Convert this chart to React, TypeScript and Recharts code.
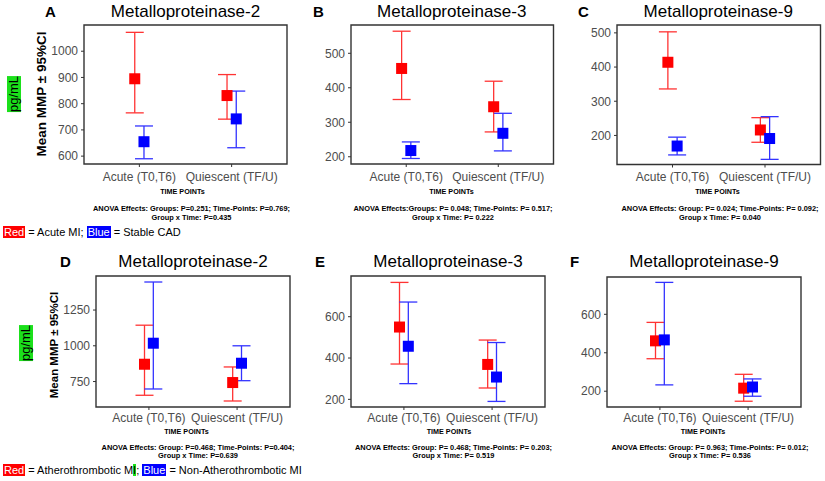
import React from 'react';
import { ComposedChart, Scatter, ErrorBar, XAxis, YAxis, ReferenceArea } from 'recharts';

const categories = ['Acute (T0,T6)', 'Quiescent (TF/U)'];

// each row: [mean, lower 95%CI, upper 95%CI] for Acute, Quiescent
const mmp2Red = [[895, 765, 1072], [831, 741, 911]];
const mmp2Blue = [[655, 590, 715], [742, 632, 848]];
const mmp3Red = [[456, 366, 564], [345, 272, 419]];
const mmp3Blue = [[218, 195, 243], [268, 217, 326]];
const mmp9Red = [[414, 336, 503], [216, 180, 252]];
const mmp9Blue = [[169, 143, 195], [191, 130, 255]];

const mmp2RedB = [[871, 654, 1144], [743, 614, 852]];
const mmp2BlueB = [[1018, 698, 1446], [878, 756, 1000]];
const mmp3RedB = [[550, 371, 766], [369, 255, 487]];
const mmp3BlueB = [[457, 276, 671], [308, 190, 475]];
const mmp9RedB = [[462, 369, 558], [216, 148, 288]];
const mmp9BlueB = [[467, 233, 766], [222, 174, 264]];

const ticks2 = [600, 700, 800, 900, 1000];
const ticks3 = [200, 300, 400, 500];
const ticks9 = [200, 300, 400, 500];
const ticks2B = [750, 1000, 1250];
const ticks3B = [200, 400, 600];
const ticks9B = [200, 400, 600];

const anovaA = ['ANOVA Effects: Groups: P=0.251; Time-Points: P=0.769;', 'Group x Time: P=0.435'];
const anovaB = ['ANOVA Effects:Groups: P= 0.048; Time-Points: P= 0.517;', 'Group x Time: P= 0.222'];
const anovaC = ['ANOVA Effects: Group: P= 0.024; Time-Points: P= 0.092;', 'Group x Time: P= 0.040'];
const anovaD = ['ANOVA Effects: Group: P=0.468; Time-Points: P=0.404;', 'Group x Time: P=0.639'];
const anovaE = ['ANOVA Effects: Group: P= 0.468; Time-Points: P= 0.203;', 'Group x Time: P= 0.519'];
const anovaF = ['ANOVA Effects: Group: P= 0.963; Time-Points: P= 0.012;', 'Group x Time: P= 0.536'];

const FONT = '"Liberation Sans", Arial, sans-serif';
const RED = '#ff0000';
const BLUE = '#0000ff';
const DODGE = 0.05;

function toPoints(rows: number[][], offset: number) {
  return rows.map((r, i) => ({ x: i + 1 + offset, y: r[0], err: [r[0] - r[1], r[2] - r[0]] }));
}

const squareShape = (color: string) => (props: any) => {
  const { cx, cy } = props;
  if (cx == null || cy == null) return <g />;
  return <rect x={cx - 5.5} y={cy - 5.5} width={11} height={11} fill={color} />;
};

interface PanelProps {
  letter: string;
  title: string;
  red: number[][];
  blue: number[][];
  ticks: number[];
  domain: [number, number];
  box: { x: number; y: number; w: number; h: number };
  anova: string[];
  anovaX: number;
  timeX: number;
  rowY: { title: number; time: number; a1: number; a2: number };
  letterX: number;
  tickMargin: number;
}

function Txt({ x, y, size, bold, children, align = 'center', color = '#000' }: any) {
  const tx = align === 'center' ? '-50%' : '0';
  return (
    <div
      style={{
        position: 'absolute',
        left: x,
        top: y - size * 0.49,
        fontSize: size,
        lineHeight: 1,
        fontWeight: bold ? 'bold' : 'normal',
        fontFamily: FONT,
        whiteSpace: 'nowrap',
        color,
        transform: `translateX(${tx})`,
      }}
    >
      {children}
    </div>
  );
}

function Panel(p: PanelProps) {
  const yw = 45;
  const left = p.box.x - yw;
  const top = p.box.y - 5;
  const width = yw + p.box.w + 5;
  const height = 5 + p.box.h + 30;
  const cx = p.box.x + p.box.w / 2;
  return (
    <>
      <Txt x={p.letterX} y={p.rowY.title} size={15} bold align="left">{p.letter}</Txt>
      <Txt x={cx} y={p.rowY.title} size={17}>{p.title}</Txt>
      <div style={{ position: 'absolute', left, top }}>
        <ComposedChart width={width} height={height} margin={{ top: 5, right: 5, left: 0, bottom: 0 }}>
          <XAxis
            type="number"
            dataKey="x"
            domain={[0.4, 2.6]}
            ticks={[1, 2]}
            allowDataOverflow
            tickFormatter={(v: number) => categories[Math.round(v) - 1]}
            axisLine={false}
            tickLine={{ stroke: '#333', strokeWidth: 1 }}
            tickSize={3}
            tickMargin={p.tickMargin}
            height={30}
            tick={{ fill: '#4d4d4d', fontSize: 12, fontFamily: FONT }}
          />
          <YAxis
            type="number"
            dataKey="y"
            domain={p.domain}
            ticks={p.ticks}
            allowDataOverflow
            axisLine={false}
            tickLine={{ stroke: '#333', strokeWidth: 1 }}
            tickSize={3}
            tickMargin={3}
            width={yw}
            tick={{ fill: '#4d4d4d', fontSize: 12, fontFamily: FONT }}
          />
          <ReferenceArea x1={0.4} x2={2.6} y1={p.domain[0]} y2={p.domain[1]} fill="none" stroke="#333" strokeWidth={1.4} />
          <Scatter data={toPoints(p.red, -DODGE)} shape={squareShape(RED)} isAnimationActive={false}>
            <ErrorBar dataKey="err" direction="y" width={9} stroke="#ff3333" strokeWidth={1.3} isAnimationActive={false} />
          </Scatter>
          <Scatter data={toPoints(p.blue, DODGE)} shape={squareShape(BLUE)} isAnimationActive={false}>
            <ErrorBar dataKey="err" direction="y" width={9} stroke="#3333ff" strokeWidth={1.3} isAnimationActive={false} />
          </Scatter>
        </ComposedChart>
      </div>
      <Txt x={p.timeX} y={p.rowY.time} size={7.2} bold>TIME POINTs</Txt>
      <Txt x={p.anovaX} y={p.rowY.a1} size={7.4} bold>{p.anova[0]}</Txt>
      <Txt x={p.anovaX} y={p.rowY.a2} size={7.4} bold>{p.anova[1]}</Txt>
    </>
  );
}

function YLabel({ x, y, size }: { x: number; y: number; size: number }) {
  return (
    <div
      style={{
        position: 'absolute', left: x, top: y, fontSize: size, lineHeight: 1, fontWeight: 'bold',
        fontFamily: FONT, whiteSpace: 'nowrap', transform: 'translate(-50%, -50%) rotate(-90deg)',
      }}
    >
      Mean MMP ± 95%CI
    </div>
  );
}

function Unit({ x, y }: { x: number; y: number }) {
  return (
    <div
      style={{
        position: 'absolute', left: x, top: y, fontSize: 13, lineHeight: '14px', background: '#1be01b',
        fontFamily: FONT, whiteSpace: 'nowrap', transform: 'translate(-50%, -50%) rotate(-90deg)',
      }}
    >
      pg/mL
    </div>
  );
}

const tag = (bg: string, fg = '#fff') => ({ background: bg, color: fg, padding: '0 1px' });

export default function App() {
  const top = { title: 11, time: 192, a1: 209, a2: 218 };
  const bot = { title: 261, time: 432, a1: 447.5, a2: 456 };
  return (
    <div style={{ position: 'absolute', left: 0, top: 0, width: 825, height: 481, background: '#fff', overflow: 'hidden', fontFamily: FONT }}>
      <Panel letter="A" title="Metalloproteinase-2" red={mmp2Red} blue={mmp2Blue} ticks={ticks2} domain={[570, 1100]}
        box={{ x: 84, y: 25, w: 203, h: 139 }} anova={anovaA} anovaX={191.5} timeX={182.5} rowY={top} letterX={45} tickMargin={5} />
      <Panel letter="B" title="Metalloproteinase-3" red={mmp3Red} blue={mmp3Blue} ticks={ticks3} domain={[179, 582]}
        box={{ x: 350.5, y: 25, w: 202.5, h: 139 }} anova={anovaB} anovaX={453} timeX={451.5} rowY={top} letterX={313} tickMargin={5} />
      <Panel letter="C" title="Metalloproteinase-9" red={mmp9Red} blue={mmp9Blue} ticks={ticks9} domain={[115, 523]}
        box={{ x: 616.5, y: 24.5, w: 203.5, h: 139.5 }} anova={anovaC} anovaX={720} timeX={717.5} rowY={top} letterX={578} tickMargin={5} />
      <Panel letter="D" title="Metalloproteinase-2" red={mmp2RedB} blue={mmp2BlueB} ticks={ticks2B} domain={[572, 1488]}
        box={{ x: 96, y: 276, w: 194, h: 131 }} anova={anovaD} anovaX={198} timeX={186.5} rowY={bot} letterX={60} tickMargin={3} />
      <Panel letter="E" title="Metalloproteinase-3" red={mmp3RedB} blue={mmp3BlueB} ticks={ticks3B} domain={[163, 797]}
        box={{ x: 351, y: 276, w: 194, h: 131 }} anova={anovaE} anovaX={453.5} timeX={449} rowY={bot} letterX={315} tickMargin={3} />
      <Panel letter="F" title="Metalloproteinase-9" red={mmp9RedB} blue={mmp9BlueB} ticks={ticks9B} domain={[118, 794]}
        box={{ x: 607, y: 277, w: 194, h: 130 }} anova={anovaF} anovaX={710} timeX={703} rowY={bot} letterX={570} tickMargin={3} />

      <YLabel x={41.7} y={93.5} size={13.5} />
      <Unit x={13.7} y={93.5} />
      <YLabel x={55} y={345} size={11.5} />
      <Unit x={26.3} y={343.3} />

      <div style={{ position: 'absolute', left: 3, top: 232 - 7, fontSize: 11, lineHeight: '14px', whiteSpace: 'nowrap' }}>
        <span style={tag(RED)}>Red</span> = Acute MI; <span style={tag(BLUE)}>Blue</span> = Stable CAD
      </div>
      <div style={{ position: 'absolute', left: 3, top: 470 - 7, fontSize: 11, lineHeight: '14px', whiteSpace: 'nowrap' }}>
        <span style={tag(RED)}>Red</span> = Atherothrombotic M<span style={{ background: '#1be01b' }}>I</span>; <span style={tag(BLUE)}>Blue</span> = Non-Atherothrombotic MI
      </div>
    </div>
  );
}
